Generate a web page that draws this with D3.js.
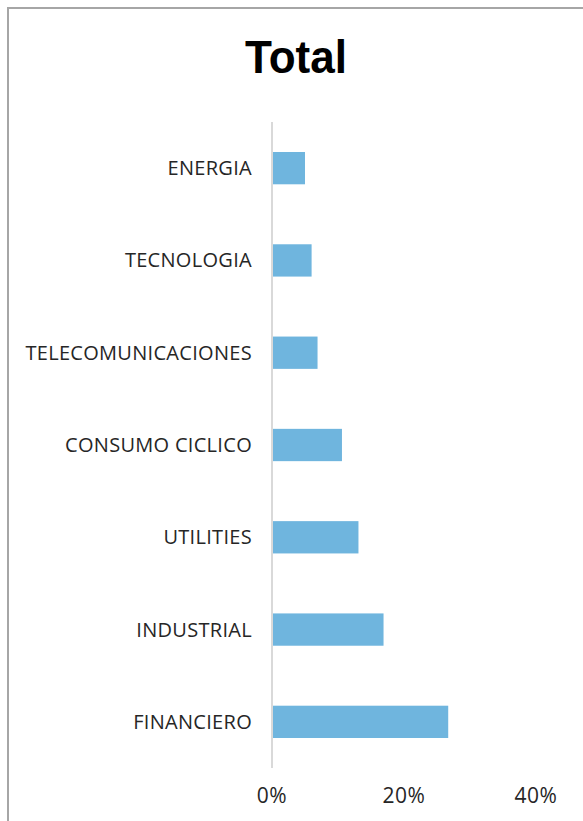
<!DOCTYPE html>
<html>
<head>
<meta charset="utf-8">
<script src="https://cdn.jsdelivr.net/npm/d3@7"></script>
<style>
  body { margin: 0; background: #fff; }
</style>
</head>
<body>
<div id="chart"></div>
<script>
const sectors = ["ENERGIA", "TECNOLOGIA", "TELECOMUNICACIONES", "CONSUMO CICLICO", "UTILITIES", "INDUSTRIAL", "FINANCIERO"];
const shares = [0.050, 0.060, 0.069, 0.106, 0.131, 0.169, 0.267];
const tickValues = [0, 0.2, 0.4];

const width = 583, height = 821;

const svg = d3.select("#chart").append("svg")
    .attr("width", width)
    .attr("height", height);

// outer frame (runs past the right and bottom edges)
svg.append("rect")
    .attr("x", 8).attr("y", 8)
    .attr("width", 600).attr("height", 850)
    .attr("fill", "#fff")
    .attr("stroke", "#a6a6a6")
    .attr("stroke-width", 2);

svg.append("text")
    .attr("x", 296).attr("y", 73)
    .attr("text-anchor", "middle")
    .attr("font-family", "Liberation Sans, Arial, sans-serif")
    .attr("font-weight", "bold")
    .attr("font-size", 46)
    .attr("textLength", 102)
    .attr("lengthAdjust", "spacingAndGlyphs")
    .text("Total");

const x = d3.scaleLinear()
    .domain([0, 0.4])
    .range([272, 536]);

const y = d3.scaleBand()
    .domain(sectors)
    .range([122, 768])
    .paddingInner(0.65)
    .paddingOuter(0.325);

svg.selectAll("rect.bar")
    .data(sectors)
    .enter().append("rect")
    .attr("class", "bar")
    .attr("x", x(0))
    .attr("y", d => y(d))
    .attr("width", (d, i) => x(shares[i]) - x(0))
    .attr("height", y.bandwidth())
    .attr("fill", "#6fb5de");

// vertical category axis line
svg.append("line")
    .attr("x1", x(0)).attr("x2", x(0))
    .attr("y1", 122).attr("y2", 768)
    .attr("stroke", "#d9d9d9")
    .attr("stroke-width", 2);

svg.selectAll("text.cat")
    .data(sectors)
    .enter().append("text")
    .attr("class", "cat")
    .attr("x", 252)
    .attr("y", d => y(d) + y.bandwidth() / 2 + 7)
    .attr("text-anchor", "end")
    .attr("font-family", "Open Sans, sans-serif")
    .attr("font-size", 20)
    .attr("letter-spacing", 0.3)
    .attr("fill", "#262626")
    .text(d => d);

svg.selectAll("text.tick")
    .data(tickValues)
    .enter().append("text")
    .attr("class", "tick")
    .attr("x", d => x(d))
    .attr("y", 803)
    .attr("text-anchor", "middle")
    .attr("font-family", "Open Sans, sans-serif")
    .attr("font-size", 21)
    .attr("letter-spacing", 0.5)
    .attr("fill", "#262626")
    .text(d => d3.format(".0%")(d));
</script>
</body>
</html>
